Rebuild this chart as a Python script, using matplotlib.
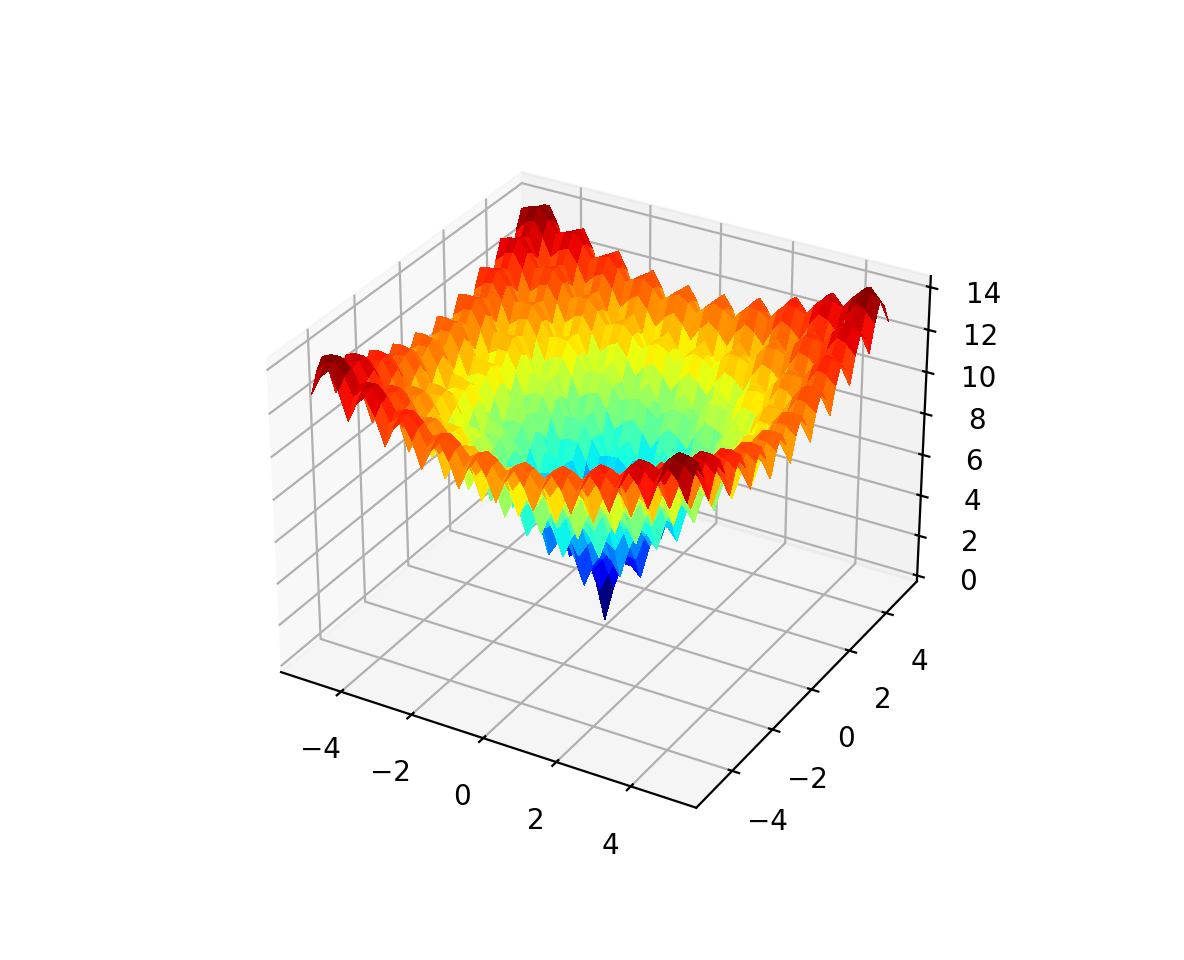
import numpy as np
import matplotlib
matplotlib.use("Agg")
import matplotlib.pyplot as plt

# Surface heights estimated for the reference on a 0.25-step grid.
# The surface looks symmetric about x=0 and y=0, so one quadrant is listed:
# rows are |x| = 0, 0.25, ... 5 and columns are |y| = 0, 0.25, ... 5.
grid_positive = [0.0, 0.25, 0.5, 0.75, 1.0, 1.25, 1.5, 1.75, 2.0, 2.25, 2.5,
                 2.75, 3.0, 3.25, 3.5, 3.75, 4.0, 4.25, 4.5, 4.75, 5.0]
quadrant_z = [
    [0.00, 1.76, 3.08, 3.08, 2.64, 4.31, 5.54, 5.45, 4.93, 6.52, 7.67, 7.51, 6.92, 8.44, 9.53, 9.30, 8.64, 10.10, 11.13, 10.85, 10.14],
    [1.76, 2.69, 3.63, 3.83, 3.78, 5.02, 5.98, 6.14, 6.03, 7.20, 8.09, 8.18, 8.00, 9.10, 9.93, 9.96, 9.72, 10.76, 11.54, 11.51, 11.22],
    [3.08, 3.63, 4.25, 4.50, 4.64, 5.58, 6.36, 6.65, 6.77, 7.67, 8.40, 8.64, 8.71, 9.55, 10.22, 10.40, 10.41, 11.19, 11.81, 11.93, 11.89],
    [3.08, 3.83, 4.50, 4.50, 4.31, 5.44, 6.33, 6.44, 6.28, 7.42, 8.28, 8.35, 8.15, 9.24, 10.05, 10.07, 9.82, 10.85, 11.62, 11.59, 11.28],
    [2.64, 3.78, 4.64, 4.31, 3.62, 5.12, 6.22, 6.03, 5.42, 6.95, 8.05, 7.85, 7.21, 8.70, 9.76, 9.52, 8.84, 10.28, 11.30, 11.00, 10.27],
    [4.31, 5.02, 5.58, 5.44, 5.12, 6.14, 6.94, 6.96, 6.74, 7.82, 8.64, 8.67, 8.44, 9.49, 10.29, 10.28, 10.01, 11.03, 11.78, 11.73, 11.42],
    [5.54, 5.98, 6.36, 6.33, 6.22, 6.94, 7.53, 7.67, 7.67, 8.47, 9.11, 9.27, 9.27, 10.05, 10.68, 10.81, 10.79, 11.54, 12.12, 12.22, 12.16],
    [5.45, 6.14, 6.65, 6.44, 6.03, 6.96, 7.67, 7.62, 7.33, 8.35, 9.12, 9.10, 8.83, 9.85, 10.61, 10.58, 10.28, 11.28, 12.01, 11.94, 11.61],
    [4.93, 6.03, 6.77, 6.28, 5.42, 6.74, 7.67, 7.33, 6.59, 8.00, 9.00, 8.70, 7.99, 9.41, 10.41, 10.10, 9.37, 10.78, 11.75, 11.42, 10.66],
    [6.52, 7.20, 7.67, 7.42, 6.95, 7.82, 8.47, 8.35, 8.00, 8.96, 9.68, 9.62, 9.30, 10.28, 11.01, 10.94, 10.62, 11.59, 12.29, 12.21, 11.86],
    [7.67, 8.09, 8.40, 8.28, 8.05, 8.64, 9.11, 9.12, 9.00, 9.68, 10.22, 10.29, 10.20, 10.91, 11.46, 11.54, 11.45, 12.15, 12.69, 12.75, 12.65],
    [7.51, 8.18, 8.64, 8.35, 7.85, 8.67, 9.27, 9.10, 8.70, 9.62, 10.29, 10.18, 9.82, 10.76, 11.45, 11.36, 11.00, 11.94, 12.62, 12.52, 12.14],
    [6.92, 8.00, 8.71, 8.15, 7.21, 8.44, 9.27, 8.83, 7.99, 9.30, 10.20, 9.82, 9.02, 10.37, 11.30, 10.93, 10.14, 11.49, 12.41, 12.03, 11.23],
    [8.44, 9.10, 9.55, 9.24, 8.70, 9.49, 10.05, 9.85, 9.41, 10.28, 10.91, 10.76, 10.37, 11.28, 11.93, 11.80, 11.42, 12.33, 12.99, 12.86, 12.46],
    [9.53, 9.93, 10.22, 10.05, 9.76, 10.29, 10.68, 10.61, 10.41, 11.01, 11.46, 11.45, 11.30, 11.93, 12.42, 12.43, 12.29, 12.93, 13.42, 13.43, 13.28],
    [9.30, 9.96, 10.40, 10.07, 9.52, 10.28, 10.81, 10.58, 10.10, 10.94, 11.54, 11.36, 10.93, 11.80, 12.43, 12.27, 11.86, 12.74, 13.38, 13.22, 12.81],
    [8.64, 9.72, 10.41, 9.82, 8.84, 10.01, 10.79, 10.28, 9.37, 10.62, 11.45, 11.00, 10.14, 11.42, 12.29, 11.86, 11.01, 12.31, 13.18, 12.76, 11.91],
    [10.10, 10.76, 11.19, 10.85, 10.28, 11.03, 11.54, 11.28, 10.78, 11.59, 12.15, 11.94, 11.49, 12.33, 12.93, 12.74, 12.31, 13.17, 13.78, 13.60, 13.16],
    [11.13, 11.54, 11.81, 11.62, 11.30, 11.78, 12.12, 12.01, 11.75, 12.29, 12.69, 12.62, 12.41, 12.99, 13.42, 13.38, 13.18, 13.78, 14.22, 14.18, 13.99],
    [10.85, 11.51, 11.93, 11.59, 11.00, 11.73, 12.22, 11.94, 11.42, 12.21, 12.75, 12.52, 12.03, 12.86, 13.43, 13.22, 12.76, 13.60, 14.18, 13.98, 13.53],
    [10.14, 11.22, 11.89, 11.28, 10.27, 11.42, 12.16, 11.61, 10.66, 11.86, 12.65, 12.14, 11.23, 12.46, 13.28, 12.81, 11.91, 13.16, 13.99, 13.53, 12.64],
]

pos = np.array(grid_positive)
axis_values = np.concatenate([-pos[:0:-1], pos])
q = np.array(quadrant_z)
right = np.hstack([q[:, :0:-1], q])
Z = np.vstack([right[:0:-1, :], right])
X, Y = np.meshgrid(axis_values, axis_values)

fig = plt.figure(figsize=(5.92, 4.8), dpi=200)
ax = fig.add_axes([0.1149, 0.11, 0.775, 0.77], projection="3d")
ax.plot_surface(X, Y, Z, rstride=1, cstride=1, cmap="jet", linewidth=0, antialiased=False)
fig.savefig("out.png", dpi=200)
